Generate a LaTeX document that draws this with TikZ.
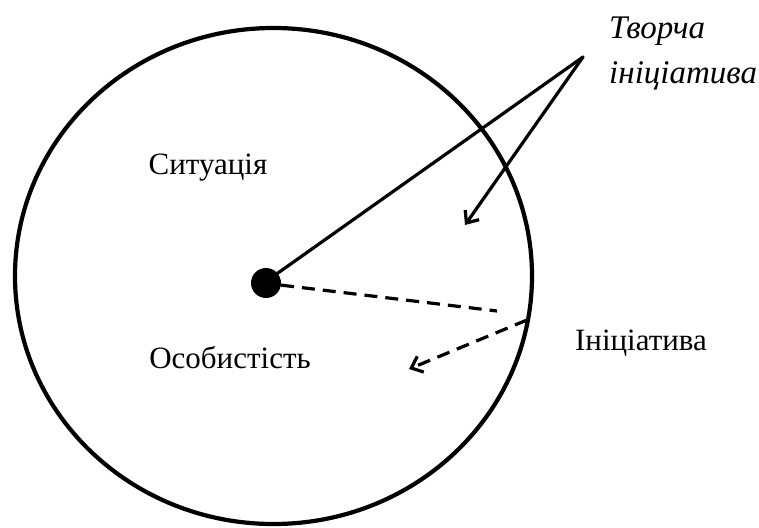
\documentclass[tikz,border=0pt]{standalone}
\usepackage{fontspec}
\setmainfont{Liberation Serif}
\usetikzlibrary{arrows.meta}
\tikzset{
  conn/.style={line width=3.2pt, line cap=round},
  dashconn/.style={line width=3.2pt, dash pattern=on 13pt off 8pt},
  tip/.style={-{Straight Barb[length=10pt,width=17pt,line width=3.2pt]}},
  lbl/.style={inner sep=0pt, font=\fontsize{31}{36}\selectfont},
  ilbl/.style={inner sep=0pt, anchor=west, font=\fontsize{33}{38}\selectfont\itshape}
}
\begin{document}
\begin{tikzpicture}[x=1pt,y=-1pt]
\useasboundingbox (0,0) rectangle (759,527);
\draw[line width=4.2pt] (273.5,276) ellipse [x radius=258.5, y radius=248];
\node[circle, fill=black, minimum size=30pt, inner sep=0pt] (dot) at (266,283) {};
\coordinate (c) at (583,57);
\coordinate (t1) at (465,225);
\coordinate (d1) at (497,311);
\coordinate (d2) at (527,320);
\coordinate (t2) at (409,369);
\draw[conn] (dot.40) -- (c);
\draw[conn, tip] (c) -- (t1);
\draw[dashconn] (dot.-8) -- (d1);
\draw[dashconn, tip] (d2) -- (t2);
\node[lbl] (sit) at (208,168) {Ситуація};
\node[lbl] (os) at (230,358) {Особистість};
\node[lbl] (in) at (641,343) {Ініціатива};
\node[ilbl] (tv) at (609,31) {Творча};
\node[ilbl] (ti) at (609,76) {ініціатива};
\end{tikzpicture}
\end{document}
